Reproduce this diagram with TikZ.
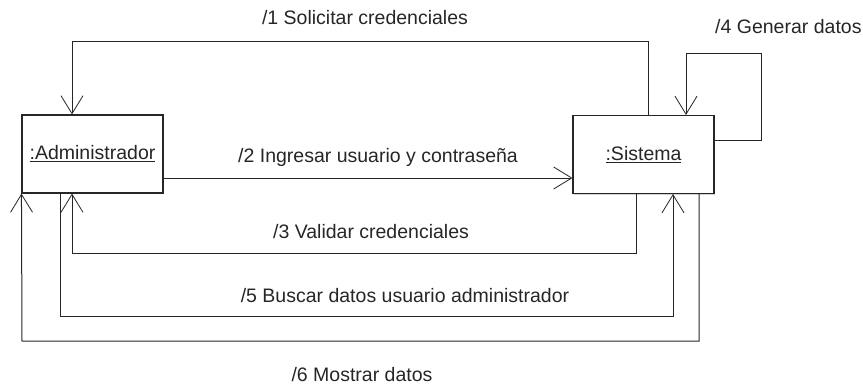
\documentclass[tikz,border=0pt]{standalone}
\usepackage{fontspec}
\setmainfont{Liberation Sans}
\usetikzlibrary{arrows.meta,shadows}
\begin{document}
\begin{tikzpicture}[x=1pt,y=-1pt,
  every node/.style={font=\fontsize{19.5}{23}\selectfont, text=black!85},
  obj/.style={draw=black!85, line width=1.1pt, fill=white, minimum width=141pt, minimum height=78pt, inner sep=0pt,
     drop shadow={shadow xshift=1.2pt, shadow yshift=-1.2pt, fill=black, opacity=0.18}},
  msg/.style={draw=black!85, line width=1pt},
  tip/.style={-{Straight Barb[length=18pt,width=22pt,line width=0.8pt]}},
  lbl/.style={inner sep=0pt}]
\useasboundingbox (0,0) rectangle (863,388);
\node[obj] (admin) at (92.5,154) {\underline{:Administrador}};
\node[obj] (sis) at (643.5,154.5) {\underline{:Sistema}};
% x positions
\coordinate (X22) at (22,0);
\coordinate (X60) at (60,0);
\coordinate (X72) at (72,0);
\coordinate (X636) at (636,0);
\coordinate (X648) at (648,0);
\coordinate (X673) at (673,0);
\coordinate (X686) at (686,0);
\coordinate (X699) at (699,0);
\coordinate (X761) at (761,0);
% y positions
\coordinate (Y41) at (0,41);
\coordinate (Y53) at (0,53);
\coordinate (Y140) at (0,140);
\coordinate (Y178) at (0,178);
\coordinate (Y253) at (0,253);
\coordinate (Y316) at (0,316);
\coordinate (Y341) at (0,341);
% 1
\draw[msg,tip] (sis.north -| X648) -- (X648 |- Y41) -- (X72 |- Y41) -- (admin.north -| X72);
% 2
\draw[msg,tip] (admin.east |- Y178) -- (sis.west |- Y178);
% 4
\draw[msg,tip] (sis.east |- Y140) -- (X761 |- Y140) -- (X761 |- Y53) -- (X686 |- Y53) -- (sis.north -| X686);
% 3
\draw[msg,tip] (sis.south -| X636) -- (X636 |- Y253) -- (X72 |- Y253) -- (admin.south -| X72);
% 5
\draw[msg,tip] (admin.south -| X60) -- (X60 |- Y316) -- (X673 |- Y316) -- (sis.south -| X673);
% 6
\draw[msg,tip] (sis.south -| X699) -- (X699 |- Y341) -- (X22 |- Y341) -- (admin.south west);
% labels
\node[lbl] (l1) at (365,18) {/1 Solicitar credenciales};
\node[lbl,anchor=west] (l4) at (715,27) {/4 Generar datos};
\node[lbl] (l2) at (378,157) {/2 Ingresar usuario y contraseña};
\node[lbl] (l3) at (371,232) {/3 Validar credenciales};
\node[lbl] (l5) at (405,296) {/5 Buscar datos usuario administrador};
\node[lbl] (l6) at (362,375) {/6 Mostrar datos};
\end{tikzpicture}
\end{document}
